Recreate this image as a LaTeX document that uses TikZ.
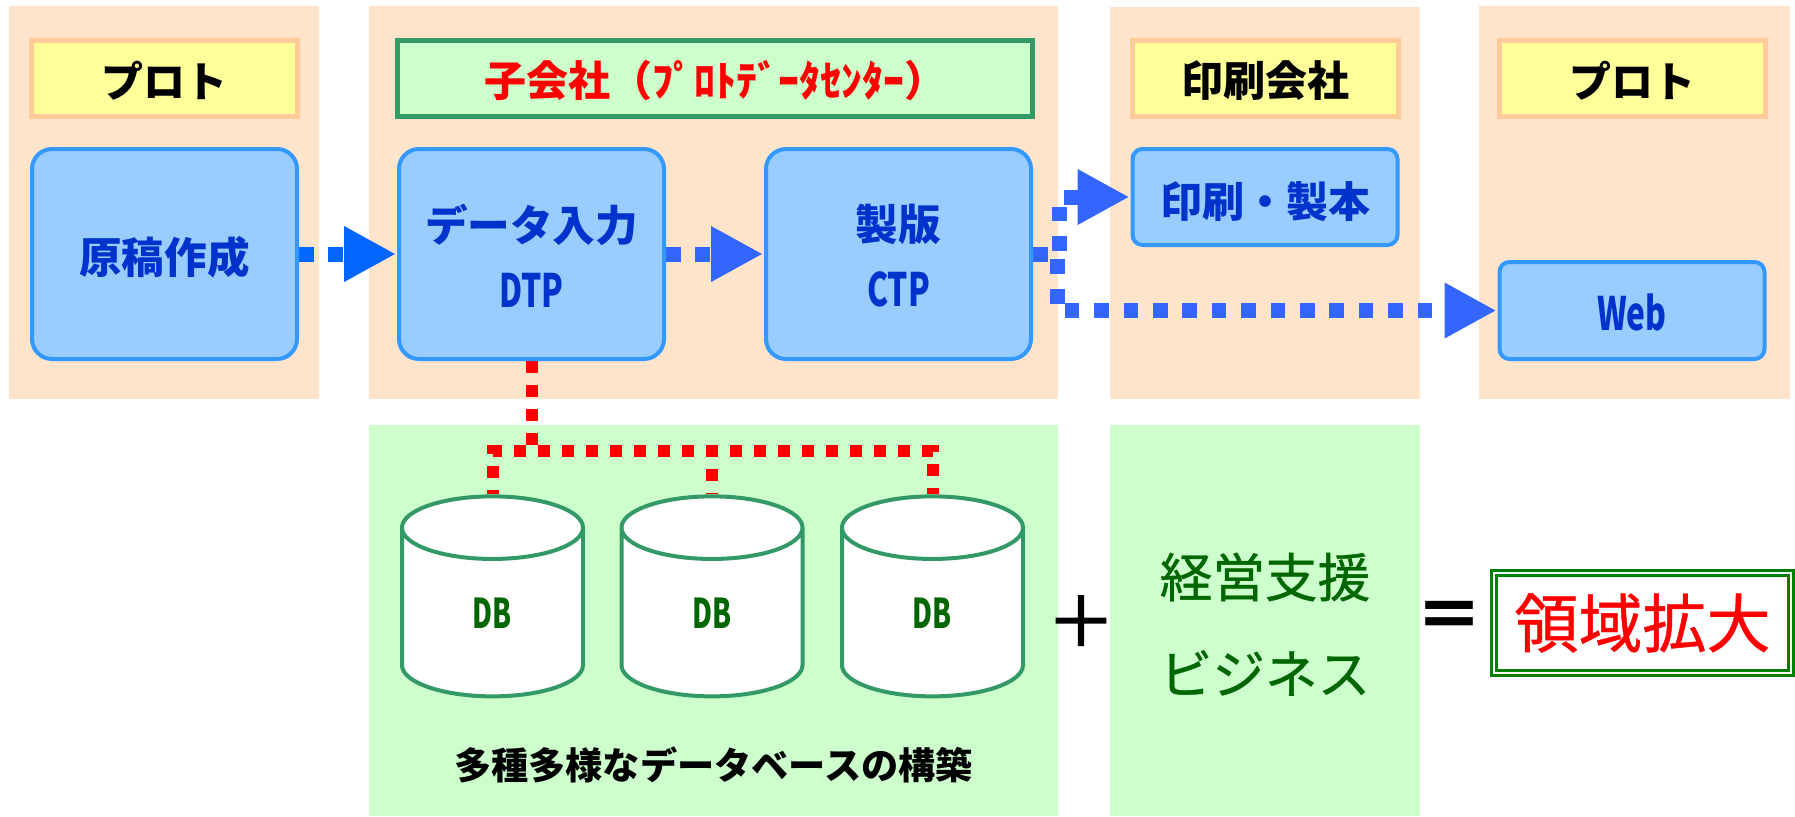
\documentclass[tikz,border=0pt]{standalone}
\usepackage{fontspec}
\setmainfont{Noto Sans CJK JP}
\newfontfamily\narrow[FakeStretch=0.69]{Noto Sans CJK JP}
\newfontfamily\narrowdb[FakeStretch=0.67]{Noto Sans CJK JP}
\newfontfamily\heavier[FakeBold=0.7]{Noto Sans CJK JP}
\newfontfamily\heaviest[FakeBold=2.2]{Noto Sans CJK JP}
\usetikzlibrary{arrows.meta,shapes.geometric}
\pgfdeclarelayer{panel}
\pgfdeclarelayer{conn}
\pgfsetlayers{panel,conn,main}
\definecolor{peach}{HTML}{FFE4CC}
\definecolor{mint}{HTML}{CCFFCC}
\definecolor{lemon}{HTML}{FFFF99}
\definecolor{apricot}{HTML}{FFCC99}
\definecolor{sea}{HTML}{339966}
\definecolor{sky}{HTML}{99CCFF}
\definecolor{skyline}{HTML}{3399FF}
\definecolor{ink}{HTML}{0033CC}
\definecolor{flowa}{HTML}{0066FF}
\definecolor{flowb}{HTML}{3366FF}
\definecolor{leaf}{HTML}{006600}
\definecolor{dgreen}{HTML}{008000}
\newcommand{\drop}[2]{\raisebox{-#1}[\height][\depth]{#2}}
\newcommand{\latin}[1]{{\narrow\fontsize{23}{31}\selectfont #1}}
\tikzset{
  panelbox/.style={rectangle,inner sep=0pt,outer sep=0pt},
  headbox/.style={rectangle,draw=apricot,fill=lemon,line width=2.5pt,minimum width=133pt,minimum height=38pt,inner sep=0pt,font=\fontsize{21}{24}\selectfont\bfseries,text=black},
  subbox/.style={rectangle,draw=sea,fill=mint,line width=2.5pt,minimum width=317.5pt,minimum height=38pt,inner sep=0pt,font=\fontsize{21}{24}\selectfont\bfseries,text=red},
  tallbox/.style={rectangle,rounded corners=10pt,draw=skyline,fill=sky,line width=2pt,minimum width=132.5pt,minimum height=105pt,inner sep=0pt,align=center,font=\fontsize{21.3}{31}\selectfont\bfseries,text=ink},
  lowbox/.style={rectangle,rounded corners=5pt,draw=skyline,fill=sky,line width=2pt,minimum width=132.5pt,minimum height=48pt,inner sep=0pt,font=\fontsize{21}{31}\selectfont\bfseries,text=ink},
  dbcyl/.style={cylinder,shape border rotate=90,shape aspect=1.6,cylinder uses custom fill,cylinder body fill=white,cylinder end fill=white,draw=sea,line width=2pt,minimum width=90.5pt,minimum height=100pt,inner sep=0pt,font=\narrowdb\fontsize{20.5}{22}\selectfont\bfseries,text=leaf},
  flowline/.style={line width=7.5pt,dash pattern=on 7.35pt off 7.35pt,-{Triangle[length=26pt,width=26pt]},shorten >=0.5pt},
  redline/.style={draw=red,line width=6pt,dash pattern=on 6pt off 6pt},
  bigtext/.style={font=\heavier\fontsize{26.3}{30}\selectfont,text=leaf,inner sep=0pt},
}
\begin{document}
\begin{tikzpicture}[x=0.5pt,y=-0.5pt]
\useasboundingbox (0,0) rectangle (1795,816);
\begin{pgfonlayer}{panel}
\node[panelbox,fill=peach,minimum width=155pt,minimum height=196.5pt] (p1) at (164,202.5) {};
\node[panelbox,fill=peach,minimum width=344.5pt,minimum height=196.5pt] (p2) at (713.5,202.5) {};
\node[panelbox,fill=peach,minimum width=155pt,minimum height=196pt] (p3) at (1265,203) {};
\node[panelbox,fill=peach,minimum width=155.5pt,minimum height=196.5pt] (p4) at (1634.5,202.5) {};
\node[panelbox,fill=mint,minimum width=344.5pt,minimum height=195.5pt] (p5) at (713.5,620.5) {};
\node[panelbox,fill=mint,minimum width=155pt,minimum height=195.5pt] (p6) at (1265,620.5) {};
\end{pgfonlayer}

\node[headbox] (h1) at (164.5,78.5) {\drop{1.1pt}{プロト}};
\node[subbox] (h2) at (715,78.5) {\drop{1.1pt}{子会社（ﾌﾟﾛﾄﾃﾞｰﾀｾﾝﾀｰ）}};
\node[headbox] (h3) at (1265,78.5) {\drop{1.1pt}{印刷会社}};
\node[headbox] (h4) at (1632.5,78.5) {\drop{1.1pt}{プロト}};

\node[tallbox] (src) at (164.5,254) {\drop{1.7pt}{原稿作成}};
\node[tallbox] (dtp) at (531.5,254) {データ入力\\\drop{1.7pt}{\latin{DTP}}};
\node[tallbox] (ctp) at (898.5,254) {製版\\\drop{1.7pt}{\latin{CTP}}};
\node[lowbox] (prt) at (1265,197) {\drop{2.3pt}{印刷・製本}};
\node[lowbox,minimum height=48.5pt] (web) at (1632,310.5) {\drop{1.1pt}{\latin{Web}}};

\node[dbcyl] (db1) at (492.5,613) {DB};
\node[dbcyl] (db2) at (712,613) {DB};
\node[dbcyl] (db3) at (932.5,613) {DB};

\node[inner sep=0pt,font=\fontsize{18.6}{22}\selectfont\bfseries] (dbcap) at (713.5,765) {多種多様なデータベースの構築};
\node[bigtext] (biz1) at (1265,577) {経営支援};
\node[bigtext] (biz2) at (1265,673) {ビジネス};
\node[inner sep=0pt,font=\heaviest\fontsize{34}{38}\selectfont] (plus) at (1081,621) {＋};
\node[inner sep=0pt,font=\fontsize{34}{38}\selectfont\bfseries] (eq) at (1449,621) {＝};
\node[rectangle,draw=dgreen,double=white,double distance=1.3pt,line width=1.3pt,fill=white,minimum width=148.5pt,minimum height=50pt,inner sep=0pt,font=\heavier\fontsize{32}{36}\selectfont,text=red] (gain) at (1642.5,623) {領域拡大};

\coordinate (hub) at (531.5,451);
\coordinate (ja) at (1059,254);
\coordinate (jb) at (1057,254);

\begin{pgfonlayer}{conn}
\draw[flowline,draw=flowa] (src.east) -- (dtp.west);
\draw[flowline,draw=flowb] (dtp.east) -- (ctp.west);
\draw[flowline,draw=flowb] (ctp.east) -- (ja) |- (prt.west);
\draw[flowline,draw=flowb] (ctp.east) -- (jb) |- (web.west);
\draw[redline] (dtp.south) -- (hub) -| (db1.north);
\draw[redline] (dtp.south) -- (hub) -| (db2.north);
\draw[redline] (dtp.south) -- (hub) -| (db3.north);
\end{pgfonlayer}
\end{tikzpicture}
\end{document}
